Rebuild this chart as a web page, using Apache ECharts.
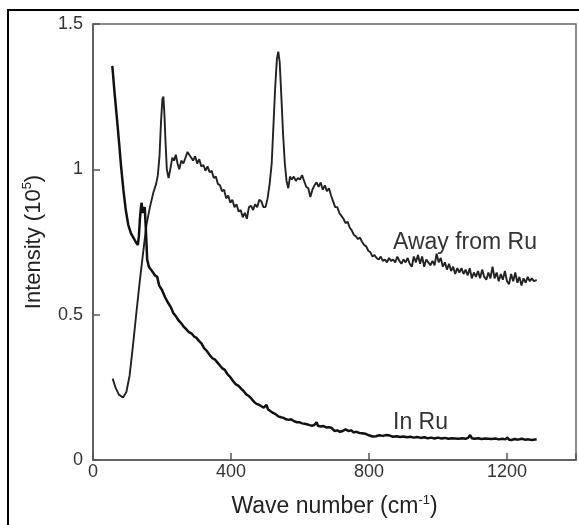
<!DOCTYPE html>
<html>
<head>
<meta charset="utf-8">
<script src="https://cdn.jsdelivr.net/npm/echarts@6/dist/echarts.min.js"></script>
<style>html,body{margin:0;padding:0;background:#fff}#c{width:579px;height:525px}</style>
</head>
<body>
<div id="c"></div>
<script>
// Tick labels
var xTicks = [0, 400, 800, 1200];
var yTicks = [0, 0.5, 1, 1.5];

// "Away from Ru" spectrum (wave number, intensity in 1e5)
var awayX = [57,65,75,87,97,106,116,126,136,146,155,165,175,183,188,193,197,201,204,207,210,214,219,224,230,235,240,245,250,256,262,268,274,279,285,290,296,302,308,314,320,326,332,338,344,350,356,362,368,374,380,386,392,398,404,410,416,422,428,434,440,446,452,458,464,470,476,482,488,494,500,506,512,518,523,528,533,537,541,546,551,556,561,566,571,576,582,588,594,600,606,612,618,624,630,636,642,648,654,660,666,672,678,684,690,696,702,708,714,720,726,732,738,744,750,756,762,768,774,780,786,792,798,804,810,816,822,828,834,840,846,852,858,864,870,876,882,888,894,900,906,912,918,924,930,936,942,948,954,960,966,972,978,984,990,996,1002,1008,1014,1020,1026,1032,1038,1044,1050,1056,1062,1068,1074,1080,1086,1092,1098,1104,1110,1116,1122,1128,1134,1140,1146,1152,1158,1164,1170,1176,1182,1188,1194,1200,1206,1212,1218,1224,1230,1236,1242,1248,1254,1260,1266,1272,1278,1286];
var awayY = [0.28,0.25,0.225,0.215,0.235,0.29,0.395,0.51,0.62,0.72,0.81,0.87,0.92,0.95,0.98,1.05,1.16,1.24,1.25,1.19,1.1,1.0,0.97,1.0,1.04,1.03,1.05,1.02,1.0,1.03,1.02,1.04,1.06,1.05,1.04,1.03,1.045,1.02,1.035,1.01,1.015,0.995,1.01,0.99,0.995,0.97,0.975,0.95,0.945,0.925,0.93,0.9,0.91,0.885,0.895,0.87,0.88,0.855,0.86,0.835,0.85,0.83,0.87,0.875,0.86,0.88,0.87,0.895,0.89,0.87,0.87,0.9,0.95,1.02,1.15,1.28,1.38,1.405,1.37,1.25,1.12,1.02,0.96,0.935,0.975,0.965,0.975,0.96,0.97,0.965,0.98,0.96,0.94,0.935,0.905,0.93,0.945,0.955,0.94,0.955,0.93,0.945,0.925,0.935,0.91,0.89,0.87,0.87,0.85,0.84,0.83,0.815,0.82,0.8,0.79,0.775,0.77,0.76,0.765,0.75,0.74,0.735,0.72,0.715,0.7,0.705,0.695,0.69,0.7,0.685,0.69,0.68,0.695,0.685,0.69,0.68,0.7,0.685,0.675,0.69,0.68,0.695,0.675,0.665,0.7,0.68,0.705,0.675,0.7,0.665,0.69,0.68,0.67,0.685,0.67,0.71,0.68,0.695,0.665,0.68,0.655,0.675,0.65,0.665,0.64,0.66,0.645,0.66,0.64,0.655,0.635,0.66,0.625,0.645,0.63,0.65,0.625,0.655,0.63,0.62,0.645,0.625,0.665,0.625,0.645,0.615,0.64,0.62,0.65,0.615,0.605,0.64,0.615,0.645,0.61,0.63,0.6,0.625,0.61,0.63,0.615,0.625,0.615,0.62];

// "In Ru" spectrum
var inRuX = [56,62,69,75,81,88,95,102,110,117,124,130,133,136,139,141,144,147,150,153,157,162,168,174,180,186,192,200,209,218,226,233,240,248,256,262,270,278,286,293,300,307,315,322,330,339,346,354,361,368,375,382,390,398,407,414,422,430,438,445,452,460,467,474,481,488,495,500,503,507,515,522,530,537,545,552,560,567,574,581,590,598,606,613,620,628,635,642,648,652,660,668,676,684,692,700,708,716,724,732,740,748,756,764,772,780,790,800,810,820,830,840,851,860,870,880,890,900,910,920,930,940,950,960,970,980,990,1000,1010,1020,1030,1040,1050,1060,1070,1080,1088,1093,1098,1106,1116,1126,1136,1146,1156,1166,1176,1186,1196,1200,1206,1213,1222,1232,1242,1252,1262,1272,1286];
var inRuY = [1.356,1.27,1.18,1.1,1.015,0.93,0.86,0.81,0.78,0.765,0.75,0.74,0.77,0.83,0.87,0.885,0.85,0.845,0.87,0.8,0.69,0.665,0.655,0.645,0.635,0.63,0.6,0.585,0.56,0.54,0.525,0.505,0.495,0.48,0.47,0.46,0.45,0.44,0.435,0.425,0.42,0.41,0.4,0.385,0.375,0.36,0.35,0.345,0.335,0.325,0.315,0.31,0.295,0.285,0.27,0.26,0.255,0.245,0.235,0.225,0.22,0.21,0.2,0.193,0.19,0.185,0.18,0.178,0.19,0.175,0.168,0.162,0.157,0.15,0.147,0.145,0.14,0.138,0.14,0.135,0.13,0.13,0.126,0.125,0.123,0.12,0.118,0.121,0.13,0.118,0.115,0.117,0.112,0.113,0.11,0.1,0.102,0.097,0.1,0.105,0.1,0.102,0.095,0.097,0.093,0.092,0.09,0.085,0.081,0.082,0.085,0.083,0.086,0.084,0.08,0.082,0.079,0.081,0.078,0.08,0.077,0.079,0.076,0.078,0.075,0.077,0.074,0.077,0.074,0.076,0.073,0.075,0.074,0.073,0.075,0.073,0.077,0.086,0.075,0.073,0.075,0.072,0.074,0.073,0.072,0.074,0.071,0.073,0.071,0.078,0.07,0.069,0.072,0.07,0.073,0.07,0.071,0.069,0.071];

function pairs(xs, ys){ return xs.map(function(x,i){ return [x, ys[i]]; }); }

var FONT = '"Liberation Sans", Arial, Helvetica, sans-serif';
function titleRich(fs){
  return {
    a: { fontSize: fs, color: '#222', fontFamily: FONT, lineHeight: 26 },
    s: { fontSize: 13, color: '#222', fontFamily: FONT, lineHeight: 26, padding: [0,0,13,0] }
  };
}
var chart = echarts.init(document.getElementById('c'));
chart.setOption({
  animation: false,
  backgroundColor: '#fff',
  textStyle: { fontFamily: FONT },
  grid: { left: 93, right: 3, top: 24, bottom: 58, show: true, borderColor: '#666', borderWidth: 1.5 },
  xAxis: {
    type: 'value', min: 0, max: 1400, interval: 400,
    name: '{a|Wave number (cm}{s|-1}{a|)}', nameLocation: 'middle', nameGap: 34,
    nameTextStyle: { rich: titleRich(23) },
    axisLine: { lineStyle: { color: '#555', width: 1.5 } },
    axisTick: { inside: true, length: 7, lineStyle: { color: '#555', width: 1.5 } },
    axisLabel: { fontSize: 18, color: '#333', margin: 3, fontFamily: FONT,
      formatter: function(v){ return xTicks.indexOf(v) >= 0 ? String(v) : ''; } },
    splitLine: { show: false }
  },
  yAxis: {
    type: 'value', min: 0, max: 1.5, interval: 0.5,
    name: '{a|Intensity (10}{s|5}{a|)}', nameLocation: 'middle', nameGap: 42, nameRotate: 90,
    nameTextStyle: { rich: titleRich(22) },
    axisLine: { show: true, lineStyle: { color: '#555', width: 1.5 } },
    axisTick: { show: true, inside: true, length: 7, lineStyle: { color: '#555', width: 1.5 } },
    axisLabel: { fontSize: 18, color: '#333', margin: 10, fontFamily: FONT,
      formatter: function(v){ return yTicks.indexOf(v) >= 0 ? String(v) : ''; } },
    splitLine: { show: false }
  },
  series: [
    { name: 'Away from Ru', type: 'line', data: pairs(awayX, awayY), showSymbol: false,
      lineStyle: { color: '#222', width: 1.9 } },
    { name: 'In Ru', type: 'line', data: pairs(inRuX, inRuY), showSymbol: false,
      lineStyle: { color: '#111', width: 2.5 } }
  ],
  graphic: [
    { type: 'rect', shape: { x: 8, y: 10, width: 620, height: 600 }, style: { fill: 'none', stroke: '#000', lineWidth: 2 }, silent: true },
    { type: 'text', x: 393, y: 243, style: { text: 'Away from Ru', font: '23px ' + FONT, fill: '#333', verticalAlign: 'middle' } },
    { type: 'text', x: 393, y: 423, style: { text: 'In Ru', font: '23px ' + FONT, fill: '#333', verticalAlign: 'middle' } }
  ]
});
</script>
</body>
</html>
